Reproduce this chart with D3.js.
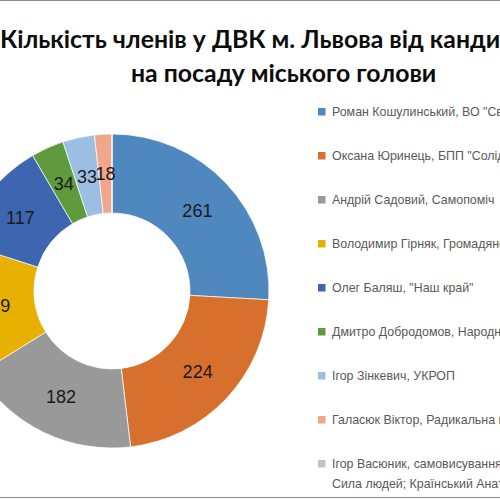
<!DOCTYPE html>
<html>
<head>
<meta charset="utf-8">
<script src="https://cdn.jsdelivr.net/npm/d3@7"></script>
<style>
body{margin:0;background:#fff;}
</style>
</head>
<body>
<script>
// data
let names = ['Роман Кошулинський, ВО "Свобода"','Оксана Юринець, БПП "Солідарність"','Андрій Садовий, Самопоміч','Володимир Гірняк, Громадянська позиція','Олег Баляш, "Наш край"','Дмитро Добродомов, Народний контроль','Ігор Зінкевич, УКРОП','Галасюк Віктор, Радикальна партія','Ігор Васюник, самовисування;'];
let names2 = ['','','','','','','','','Сила людей; Країнський Анатолій'];
let values = [261,224,182,139,117,34,33,18,0];
let colors = ['#4f87bf','#d7702d','#999999','#e8b000','#3e65b0','#5f9a3f','#9dbee3','#f0a68a','#c4c4c4'];
let title = ['Кількість членів у ДВК м. Львова від кандидатів','на посаду міського голови'];

let width=500,height=500;
let svg = d3.select('body').append('svg').attr('width',width).attr('height',height);

// frame lines
svg.append('line').attr('x1',0).attr('x2',width).attr('y1',0.5).attr('y2',0.5).attr('stroke','#8c8c8c');
svg.append('line').attr('x1',0).attr('x2',width).attr('y1',497.5).attr('y2',497.5).attr('stroke','#8c8c8c');

// title
svg.append('text').attr('x',0).attr('y',48).text(title[0])
  .attr('font-family','Lato, sans-serif').attr('font-weight','bold').attr('font-size',24.8).attr('fill','#0d0d0d');
svg.append('text').attr('x',131).attr('y',82).text(title[1])
  .attr('font-family','Lato, sans-serif').attr('font-weight','bold').attr('font-size',24.8).attr('fill','#0d0d0d');

// donut
let cx=112,cy=291,rOut=157,rIn=78;
let pie = d3.pie().sort(null).value(d=>d);
let arcs = pie(values);
let arc = d3.arc().innerRadius(rIn).outerRadius(rOut);
let labelArc = d3.arc().innerRadius((rIn+rOut)/2).outerRadius((rIn+rOut)/2);
let g = svg.append('g').attr('transform','translate('+cx+','+cy+')');
g.selectAll('path').data(arcs).join('path').attr('d',arc)
  .attr('fill',(d,i)=>colors[i]).attr('stroke','#fff').attr('stroke-width',0.7);
g.selectAll('text').data(arcs.filter(d=>d.value>0)).join('text')
  .attr('transform',d=>'translate('+labelArc.centroid(d)+')')
  .attr('text-anchor','middle').attr('dy','0.36em')
  .attr('font-family','Liberation Sans, Arial, sans-serif').attr('font-size',18).attr('fill','#1a1a1a')
  .text(d=>d.value);

// legend
let legend = svg.append('g');
let ly = d3.scaleLinear().domain([0,8]).range([112,464]);
names.forEach((n,i)=>{
  legend.append('rect').attr('x',318).attr('y',ly(i)-4).attr('width',7.5).attr('height',7.5).attr('fill',colors[i]);
  legend.append('text').attr('x',332).attr('y',ly(i)).attr('dy','0.35em').text(n)
    .attr('font-family','Liberation Sans, Arial, sans-serif').attr('font-size',12.4).attr('fill','#595959');
  if(names2[i]) legend.append('text').attr('x',332).attr('y',ly(i)+20).attr('dy','0.35em').text(names2[i])
    .attr('font-family','Liberation Sans, Arial, sans-serif').attr('font-size',12.4).attr('fill','#595959');
});
</script>
</body>
</html>
